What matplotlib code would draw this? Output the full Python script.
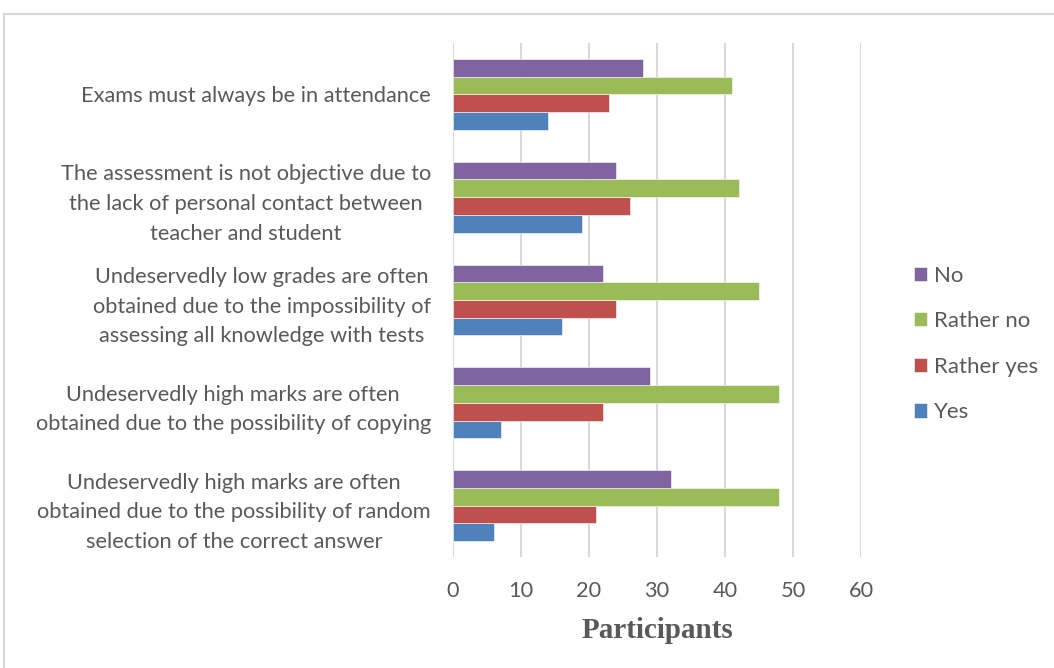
import matplotlib.pyplot as plt
import numpy as np

categories = [
    "Exams must always be in attendance",
    "The assessment is not objective due to\nthe lack of personal contact between\nteacher and student",
    "Undeservedly low grades are often\nobtained due to the impossibility of\nassessing all knowledge with tests",
    "Undeservedly high marks are often\nobtained due to the possibility of copying",
    "Undeservedly high marks are often\nobtained due to the possibility of random\nselection of the correct answer",
]
yes = [14, 19, 16, 7, 6]
rather_yes = [23, 26, 24, 22, 21]
rather_no = [41, 42, 45, 48, 48]
no = [28, 24, 22, 29, 32]

series = [
    ("Yes", yes, "#4f81bd"),
    ("Rather yes", rather_yes, "#c0504d"),
    ("Rather no", rather_no, "#9bbb59"),
    ("No", no, "#8064a2"),
]

TEXT = "#595959"
FONT = ["Lato", "DejaVu Sans"]
FS = 15.7

fig = plt.figure(figsize=(10.54, 6.68), dpi=100)
ax = fig.add_axes([453 / 1054, 1 - 557 / 668, (861 - 453) / 1054, (557 - 43) / 668])

n = len(categories)
pos = np.arange(n)[::-1].astype(float)
bar_h = 0.69 / 4
for i, (name, vals, color) in enumerate(series):
    offs = (i - 1.5) * bar_h
    ax.barh(pos + offs, vals, height=bar_h, color=color, label=name,
            edgecolor="white", linewidth=0.4, zorder=3)

ax.set_xlim(0, 60)
ax.set_ylim(-0.5, n - 0.5)
ax.set_xticks(range(0, 61, 10))
ax.set_yticks(pos)
ax.set_yticklabels(categories, fontsize=FS, color=TEXT, family=FONT,
                   multialignment="center", linespacing=1.6)
for lab in ax.get_xticklabels():
    lab.set_family(FONT)
ax.tick_params(axis="x", labelsize=FS, labelcolor=TEXT, length=0, pad=17)
ax.tick_params(axis="y", length=0, pad=16)
ax.grid(axis="x", color="#d9d9d9", linewidth=1.5, zorder=0)
for s in ax.spines.values():
    s.set_visible(False)

ax.set_xlabel("Participants", fontsize=21, fontweight="bold", color=TEXT,
              family="Liberation Serif", labelpad=12)

handles, labels = ax.get_legend_handles_labels()
leg = fig.legend(handles[::-1], labels[::-1], loc="center left",
                 bbox_to_anchor=(914 / 1054, 1 - 344 / 668), frameon=False,
                 prop={"family": FONT, "size": 16}, labelspacing=1.15,
                 borderpad=0, borderaxespad=0,
                 handlelength=0.6, handleheight=0.6, handletextpad=0.3)
for t in leg.get_texts():
    t.set_color(TEXT)

# outer chart frame
fig.add_artist(plt.Line2D([4 / 1054, 4 / 1054], [0, 1 - 14 / 668],
                          transform=fig.transFigure, color="#d9d9d9", linewidth=1.5))
fig.add_artist(plt.Line2D([4 / 1054, 1], [1 - 14 / 668, 1 - 14 / 668],
                          transform=fig.transFigure, color="#d9d9d9", linewidth=1.5))

fig.savefig("out.png", dpi=100)
